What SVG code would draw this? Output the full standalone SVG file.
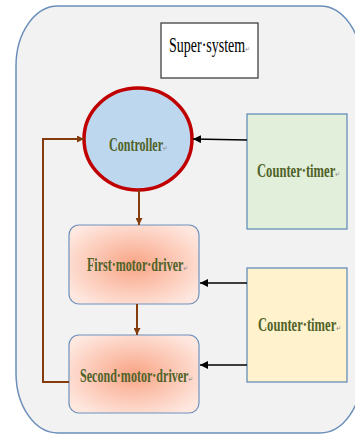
<svg xmlns="http://www.w3.org/2000/svg" width="355" height="436" viewBox="0 0 355 436">
  <defs>
    <radialGradient id="driverFill" cx="50%" cy="50%" r="60%">
      <stop offset="0" stop-color="#F9A485"/>
      <stop offset="0.35" stop-color="#FBBCA5"/>
      <stop offset="1" stop-color="#FEE7DF"/>
    </radialGradient>
    <marker id="headBrown" viewBox="0 0 10 10" refX="10" refY="5" markerWidth="7" markerHeight="7" markerUnits="userSpaceOnUse" orient="auto">
      <path d="M0,0 L10,5 L0,10 Z" fill="#843C0C"/>
    </marker>
    <marker id="headBlack" viewBox="0 0 10 10" refX="10" refY="5" markerWidth="8" markerHeight="8" markerUnits="userSpaceOnUse" orient="auto">
      <path d="M0,0 L10,5 L0,10 Z" fill="#000"/>
    </marker>
  </defs>
  <style>
    .label { font-family: "Liberation Serif", "Times New Roman", serif; font-weight: bold; font-size: 18px; fill: #4F6228; }
    .mark { font-family: "DejaVu Sans", sans-serif; font-weight: normal; font-size: 8px; fill: #8A8A8A; }
    .counter { stroke: #5A86B6; stroke-width: 1.2; }
    .driver { fill: url(#driverFill); stroke: #6E91BC; stroke-width: 1.2; }
    .brown { fill: none; stroke: #843C0C; stroke-width: 2; }
    .black { fill: none; stroke: #000; stroke-width: 1.5; }
  </style>

  <!-- enclosing super-system frame -->
  <rect x="16" y="6" width="346" height="427" rx="42" ry="60" fill="#F2F2F2" stroke="#6A8EBA" stroke-width="1.5"/>

  <!-- labels use a narrowed serif face: horizontal scale on each text -->
  <g id="super-system">
    <rect x="161" y="23" width="97" height="55" fill="#FFFFFF" stroke="#404040" stroke-width="1.3"/>
    <text transform="translate(169,52) scale(0.7,1)" font-family="Liberation Serif, serif" font-size="20" fill="#000">Super·system<tspan class="mark">↵</tspan></text>
  </g>

  <g id="controller">
    <ellipse cx="138" cy="139" rx="54" ry="51" fill="#BDD7EE" stroke="#C00000" stroke-width="3.5"/>
    <text transform="translate(109,151) scale(0.67,1)" class="label" font-size="19">Controller<tspan class="mark">↵</tspan></text>
  </g>

  <g id="counter-timer-1">
    <rect x="247" y="114" width="100" height="115" fill="#E2EFDA" class="counter"/>
    <text transform="translate(257,177) scale(0.7,1)" class="label">Counter·timer<tspan class="mark">↵</tspan></text>
  </g>

  <g id="first-motor-driver">
    <rect x="69" y="225" width="130" height="79" rx="10" class="driver"/>
    <text transform="translate(87,271) scale(0.67,1)" class="label">First·motor·driver<tspan class="mark">↵</tspan></text>
  </g>

  <g id="counter-timer-2">
    <rect x="247" y="268" width="100" height="114" fill="#FFF2CC" class="counter"/>
    <text transform="translate(258,331) scale(0.7,1)" class="label">Counter·timer<tspan class="mark">↵</tspan></text>
  </g>

  <g id="second-motor-driver">
    <rect x="69" y="335" width="130" height="78" rx="10" class="driver"/>
    <text transform="translate(80,382) scale(0.67,1)" class="label">Second·motor·driver<tspan class="mark">↵</tspan></text>
  </g>

  <g id="connectors">
    <path d="M247,140 L193,139" class="black" stroke="#333" marker-end="url(#headBlack)"/>
    <path d="M139,190 V225" class="brown" marker-end="url(#headBrown)"/>
    <path d="M137,304 V335" class="brown" marker-end="url(#headBrown)"/>
    <path d="M247,283 H200" class="black" marker-end="url(#headBlack)"/>
    <path d="M247,365 H200" class="black" marker-end="url(#headBlack)"/>
    <path d="M69,382 H43 V139 H84" class="brown" stroke-width="2.3" marker-end="url(#headBrown)"/>
  </g>
</svg>
